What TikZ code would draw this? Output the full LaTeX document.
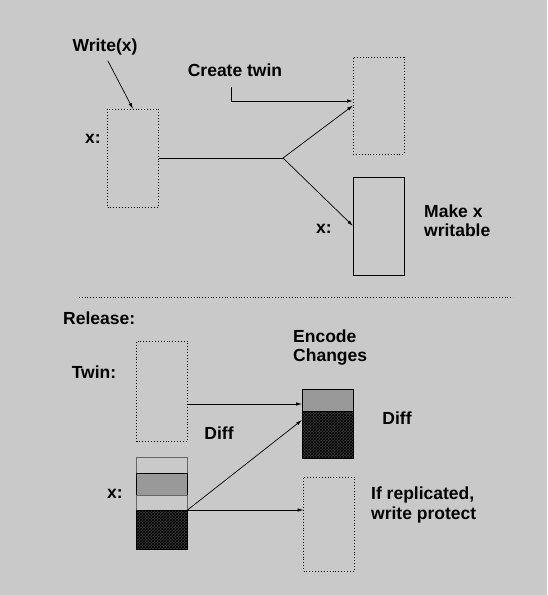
\documentclass[tikz,border=0pt]{standalone}
\usepackage{fontspec}
\setmainfont{Liberation Sans}
\usetikzlibrary{arrows.meta,patterns,calc}
\definecolor{bggray}{HTML}{C9C9C9}
\definecolor{midgray}{HTML}{999999}
\tikzset{
  lbl/.style={font=\fontsize{17.5}{19.5}\selectfont\bfseries,inner sep=0pt,align=left},
  dotbox/.style={shape=rectangle,draw=black,dotted,line width=0.9pt,inner sep=0pt,outer sep=0pt,minimum width=51pt},
  solbox/.style={shape=rectangle,draw=black,line width=0.9pt,inner sep=0pt,outer sep=0pt,minimum width=51pt},
  darkbox/.style={solbox,fill=black!78,postaction={pattern=crosshatch,pattern color=black}},
  arr/.style={-{Latex[length=6pt,width=3.5pt]},draw=black,line width=0.7pt}
}
\begin{document}
\begin{tikzpicture}[x=1pt,y=-1pt]
\fill[bggray] (0,0) rectangle (547,595);
\useasboundingbox (0,0) rectangle (547,595);
% top part
\node[lbl] (write) at (105,47) {Write(x)};
\node[dotbox,minimum height=98pt] (xold) at (133,158) {};
\node[lbl] (xoldlbl) at (93,139) {x:};
\node[dotbox,minimum height=97pt] (twin) at (378.5,105.5) {};
\node[solbox,minimum height=98pt] (xnew) at (378.5,226) {};
\node[lbl] (xnewlbl) at (324,229) {x:};
\node[lbl] (create) at (235,70) {Create twin};
\node[lbl,anchor=west] (writable) at (424,220.5) {Make x\\writable};
\coordinate (fork) at (283,158);
\coordinate (ctstart) at (231,87);
\coordinate (ctbend) at (231,101);

\draw [arr,shorten <=6pt] (write.south) -- (xold.north);
\draw [line width=0.7pt] (xold.east) -- (fork);
\draw [arr] (fork) -- (twin.west);
\draw [arr] (fork) -- (xnew.west);
\draw [arr] (ctstart) -- (ctbend) -- (ctbend -| twin.west);

\draw [dotted,line width=0.8pt] (79,297) -- (513,297);

% release part
\node[lbl,anchor=west] (release) at (63,318) {Release:};
\node[lbl] (twinlbl) at (94,372) {Twin:};
\node[dotbox,minimum height=100pt] (twinb) at (162,391) {};
\node[lbl] (diffl) at (219,433) {Diff};
\node[lbl,anchor=west] (encode) at (293,347.5) {Encode\\Changes};
\node[solbox,fill=midgray,minimum height=22pt] (dgray) at (327.5,400) {};
\node[darkbox,minimum height=47pt] (ddark) at (327.5,434.5) {};
\node[lbl] (diffr) at (397,418) {Diff};

\node[solbox,draw=black!60,minimum height=16pt] (xtop) at (162,465) {};
\node[solbox,fill=midgray,minimum height=22pt] (xmid) at (162,484) {};
\node[solbox,draw=black!60,minimum height=15pt] (xgap) at (162,502.5) {};
\node[darkbox,minimum height=39pt] (xdark) at (162,529.5) {};
\node[lbl] (xlbl) at (115,494) {x:};

\node[dotbox,minimum height=94pt] (wp) at (329,524) {};
\node[lbl,anchor=west] (protect) at (371,505) {If replicated,\\write protect};

\coordinate (din) at ([yshift=-4pt]dgray.west);
\draw [arr] (twinb.east |- din) -- (din);
\draw [arr] (xdark.north east) -- ([yshift=-9pt]ddark.north west);
\draw [arr] (xdark.north east) -- (xdark.north east -| wp.west);
\end{tikzpicture}
\end{document}
